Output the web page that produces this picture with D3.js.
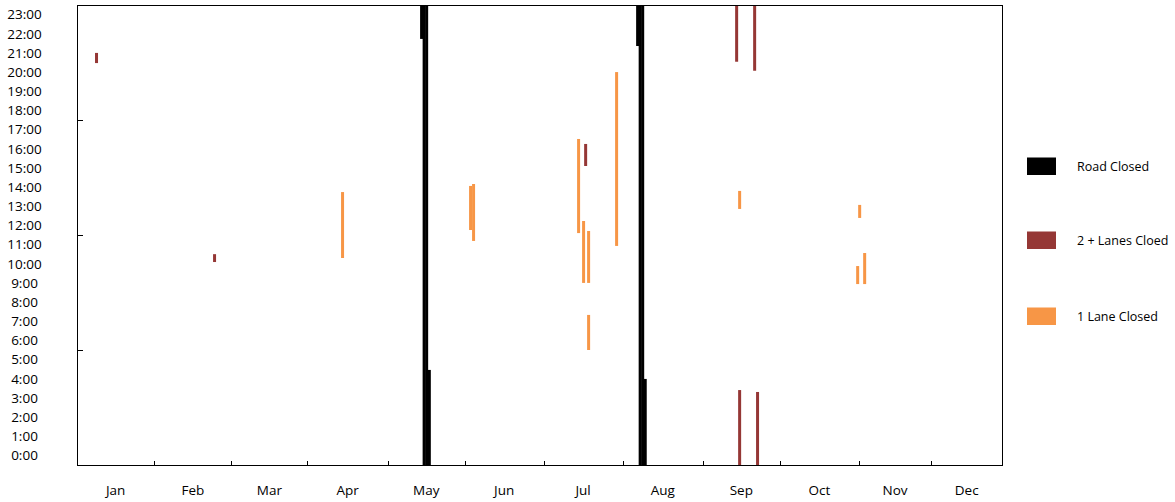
<!DOCTYPE html>
<html>
<head>
<meta charset="utf-8">
<script src="https://cdn.jsdelivr.net/npm/d3@7"></script>
<style>
  html, body { margin: 0; padding: 0; background: #fff; }
  svg { display: block; font-family: "Open Sans", sans-serif; }
</style>
</head>
<body>
<svg id="chart" width="1175" height="502"></svg>
<script>
// ---- data ----
const months = ["Jan","Feb","Mar","Apr","May","Jun","Jul","Aug","Sep","Oct","Nov","Dec"];
// month boundaries on the (day-of-year-like) x axis
const monthBounds = [0, 30.5, 60.9, 90.9, 122.6, 152.9, 184.0, 215.2, 246.8, 277.2, 308.4, 336.8, 365];
const hourLabels = ["0:00","1:00","2:00","3:00","4:00","5:00","6:00","7:00","8:00","9:00","10:00","11:00",
  "12:00","13:00","14:00","15:00","16:00","17:00","18:00","19:00","20:00","21:00","22:00","23:00"];
const hourTicks = [0, 6, 12, 18, 24];

const seriesNames = ["Road Closed", "2 + Lanes Cloed", "1 Lane Closed"];
// [day, fromHour, toHour]
const roadClosed = [
  [135.9, 22.23, 24], [136.9, 0, 24], [137.9, 0, 24], [138.95, 0, 4.96],
  [221.1, 21.86, 24], [222.1, 0, 24], [223.1, 0, 24], [224.1, 0, 4.49]
];
const twoLanesClosed = [
  [7.7, 20.97, 21.5],
  [54.25, 10.59, 11.0],
  [200.6, 15.6, 16.75],
  [260.15, 21.04, 24], [261.33, 0, 3.91],
  [267.25, 20.57, 24], [268.4, 0, 3.81]
];
const oneLaneClosed = [
  [104.73, 10.8, 14.24],
  [155.22, 12.26, 14.56],
  [156.4, 11.69, 14.66],
  [197.82, 12.10, 17.01],
  [199.79, 9.50, 12.73],
  [201.77, 9.50, 12.21],
  [201.77, 6.0, 7.83],
  [212.81, 11.43, 20.5],
  [261.33, 13.36, 14.3],
  [308.67, 12.89, 13.57],
  [307.88, 9.44, 10.38],
  [310.64, 9.44, 11.06]
];
const colors = ["#000000", "#953735", "#F79646"];

// ---- layout ----
const svg = d3.select("#chart");
const plotL = 77, plotR = 1002.5, plotT = 5, plotB = 465;
const barW = 3;

const x = d3.scaleLinear().domain([0, 365]).range([plotL, plotR]);
const y = d3.scaleLinear().domain([0, 24]).range([plotB, plotT]);

// bars
const allSeries = [roadClosed, twoLanesClosed, oneLaneClosed];
allSeries.forEach((data, i) => {
  svg.append("g")
    .selectAll("rect")
    .data(data)
    .join("rect")
    .attr("x", d => x(d[0]) - barW / 2)
    .attr("width", barW)
    .attr("y", d => y(d[2]))
    .attr("height", d => y(d[1]) - y(d[2]))
    .attr("fill", colors[i]);
});

// frame
svg.append("rect")
  .attr("x", plotL + 0.5).attr("y", plotT + 0.5)
  .attr("width", plotR - plotL - 0.5).attr("height", plotB - plotT)
  .attr("fill", "none").attr("stroke", "#000").attr("stroke-width", 1)
  .attr("shape-rendering", "crispEdges");

// x axis ticks (inward) at month boundaries
const xAxis = d3.axisBottom(x)
  .tickValues(monthBounds.slice(1, -1))
  .tickSize(-5)
  .tickFormat("");
svg.append("g")
  .attr("transform", `translate(0,${plotB + 0.5})`)
  .call(xAxis)
  .call(g => g.select(".domain").remove())
  .call(g => g.selectAll("line").attr("shape-rendering", "crispEdges"));

// month labels centred between boundaries
svg.append("g")
  .selectAll("text")
  .data(months)
  .join("text")
  .attr("x", (d, i) => x((monthBounds[i] + monthBounds[i + 1]) / 2))
  .attr("y", 495)
  .attr("text-anchor", "middle")
  .attr("font-size", 13.5)
  .attr("fill", "#000")
  .text(d => d);

// y axis ticks (inward)
const yAxis = d3.axisLeft(y)
  .tickValues(hourTicks.slice(1, -1))
  .tickSize(-5)
  .tickFormat("");
svg.append("g")
  .attr("transform", `translate(${plotL + 0.5},0)`)
  .call(yAxis)
  .call(g => g.select(".domain").remove())
  .call(g => g.selectAll("line").attr("shape-rendering", "crispEdges"));

// hour labels centred in each hour band
svg.append("g")
  .selectAll("text")
  .data(hourLabels)
  .join("text")
  .attr("x", 24.5)
  .attr("y", (d, i) => y(i + 0.5))
  .attr("dy", "0.36em")
  .attr("text-anchor", "middle")
  .attr("font-size", 13.5)
  .attr("fill", "#000")
  .text(d => d);

// legend
const legendY = [166, 240, 316];
const lg = svg.append("g");
seriesNames.forEach((name, i) => {
  lg.append("rect")
    .attr("x", 1027).attr("y", legendY[i] - 8.5)
    .attr("width", 29).attr("height", 17.5)
    .attr("fill", colors[i]);
  lg.append("text")
    .attr("x", 1077).attr("y", legendY[i])
    .attr("dy", "0.36em")
    .attr("font-size", 12.5)
    .attr("fill", "#000")
    .text(name);
});
</script>
</body>
</html>
